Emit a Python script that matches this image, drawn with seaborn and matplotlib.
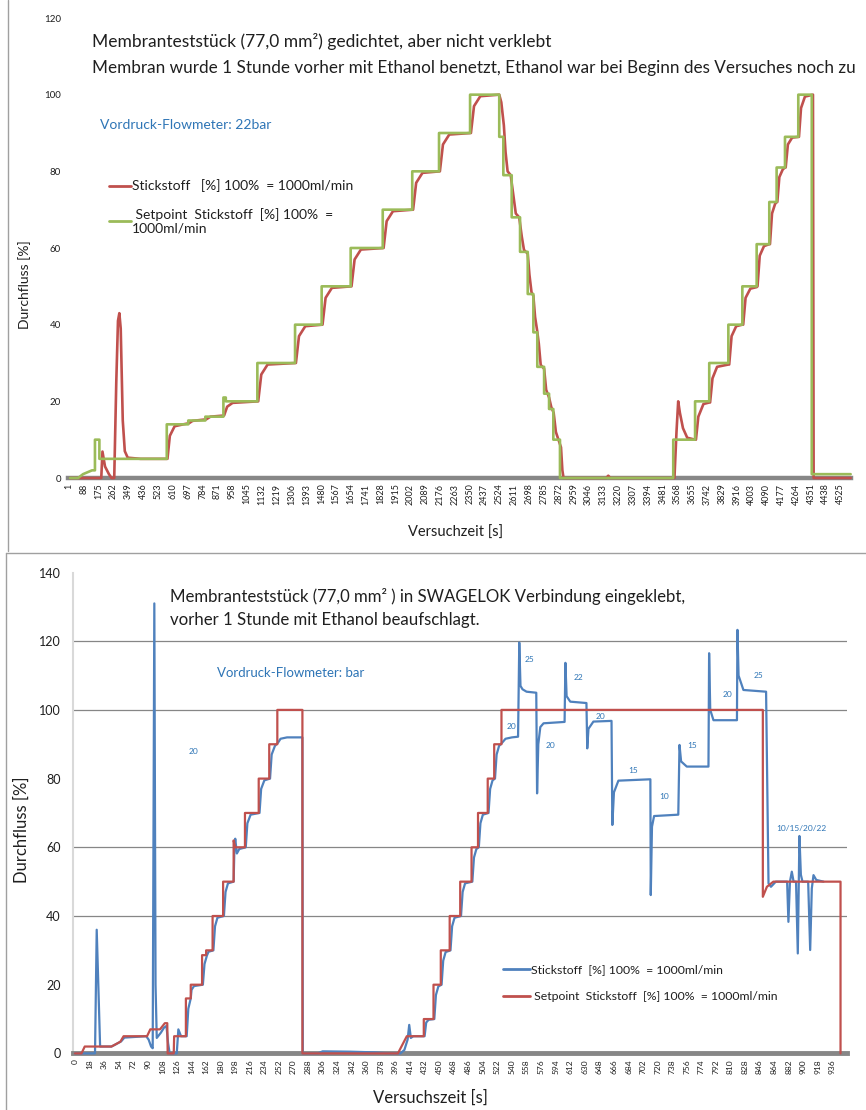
import matplotlib
matplotlib.use('Agg')
import matplotlib.pyplot as plt
import seaborn as sns
import pandas as pd
from matplotlib.lines import Line2D

# --- Data (time in s, flow in %) ---
# upper chart: setpoint (green) and measured flow (red)
top_setpoint = [
    (7, 0), (54, 0), (83, 1), (136, 2), (153, 2), (153, 10), (179, 10), (179, 5),
    (574, 5), (574, 14), (700, 14), (700, 15), (800, 15), (800, 16), (906, 16),
    (906, 21), (920, 21), (920, 20), (1105, 20), (1105, 30), (1326, 30), (1326, 40),
    (1482, 40), (1482, 50), (1652, 50), (1652, 60), (1840, 60), (1840, 70),
    (2013, 70), (2013, 80), (2170, 80), (2170, 90), (2352, 90), (2352, 100),
    (2523, 100), (2523, 89), (2547, 89), (2547, 79), (2596, 79), (2596, 68),
    (2645, 68), (2645, 59), (2690, 59), (2690, 48), (2723, 48), (2723, 38),
    (2746, 38), (2746, 29), (2786, 29), (2786, 22), (2815, 22), (2815, 18),
    (2840, 18), (2840, 10), (2879, 10), (2879, 0), (3543, 0), (3543, 10),
    (3671, 10), (3671, 20), (3754, 20), (3754, 30), (3866, 30), (3866, 40),
    (3948, 40), (3948, 50), (4032, 50), (4032, 61), (4106, 61), (4106, 72),
    (4149, 72), (4149, 81), (4198, 81), (4198, 89), (4276, 89), (4276, 100),
    (4355, 100), (4355, 1), (4583, 1),
]
top_flow = [
    (7, 0), (190, 0), (197, 6.9), (212, 3), (235, 1), (250, 0), (266, 0), (278, 25),
    (288, 41), (296, 43), (304, 39), (316, 15), (328, 7), (345, 5.3), (420, 5),
    (578, 5), (592, 11), (620, 13.5), (671, 14), (705, 14.3), (725, 14.9), (805, 15.3),
    (830, 16), (910, 16.3), (928, 18.6), (960, 19.6), (1105, 20),
    (1110, 20), (1128, 27), (1165, 29.6), (1326, 30),
    (1331, 30), (1349, 37), (1386, 39.6), (1482, 40),
    (1487, 40), (1505, 47), (1542, 49.6), (1652, 50),
    (1657, 50), (1675, 57), (1712, 59.6), (1840, 60),
    (1845, 60), (1863, 67), (1900, 69.6), (2013, 70),
    (2018, 70), (2036, 77), (2073, 79.6), (2170, 80),
    (2175, 80), (2193, 87), (2230, 89.6), (2352, 90),
    (2357, 90), (2375, 97), (2412, 99.6), (2523, 100),
    (2535, 98), (2550, 92), (2560, 85), (2572, 80), (2590, 79), (2605, 74),
    (2620, 69), (2640, 68), (2655, 63), (2668, 59.5), (2690, 58.5), (2700, 53),
    (2712, 48.5), (2723, 47.5), (2733, 42), (2745, 38.5), (2755, 35), (2766, 29.5),
    (2786, 28.5), (2798, 23), (2815, 21), (2828, 18.5), (2842, 17), (2855, 12),
    (2870, 10), (2885, 8), (2893, 2), (2900, 0),
    (3150, 0), (3162, 0.6), (3175, 0),
    (3550, 0), (3562, 12), (3572, 20), (3582, 17), (3600, 13), (3625, 10.5), (3671, 10),
    (3676, 10), (3690, 16), (3720, 19.3), (3754, 19.7),
    (3759, 19.7), (3773, 26), (3800, 29), (3866, 29.6),
    (3871, 29.6), (3885, 37), (3912, 39.6), (3948, 40),
    (3953, 40), (3967, 47), (3995, 49.4), (4032, 49.8),
    (4037, 50), (4050, 58), (4075, 60.5), (4106, 61),
    (4110, 61), (4122, 69), (4140, 71.5), (4149, 72),
    (4153, 72), (4165, 78.5), (4185, 80.5), (4198, 81),
    (4202, 81), (4215, 87), (4240, 88.8), (4276, 89),
    (4280, 89), (4292, 96.5), (4315, 99.5), (4362, 100), (4366, 0), (4583, 0),
]

# lower chart: measured flow (blue) and setpoint (red)
bot_flow = [
    (0, 0), (24.7, 0), (26.8, 36), (29, 18), (31, 2), (45, 2), (50, 2.6), (57, 3.5),
    (61, 4.6), (88, 5), (91, 4), (94, 2), (96, 1.5), (98, 131), (99.5, 20), (101, 4.5),
    (106, 6), (110, 7.5), (113, 8), (115, 3), (117, 0), (125.7, 0), (127.7, 7), (131, 5),
    (138, 5), (140, 13), (143, 16), (144, 18.5), (147, 19.6), (158, 20), (160, 26),
    (163, 28.5), (165, 29.6), (171, 30), (173, 37), (176, 39.5), (184, 40), (186, 47),
    (189, 49.5), (196, 50), (197, 60), (198, 62.5), (200, 58.2), (203, 59.5), (211, 60),
    (213, 67), (217, 69.5), (228, 70), (230, 77), (234, 79.5), (241, 80), (243, 87),
    (247, 89.5), (251, 90.5), (254, 91.6), (262, 92), (281, 92), (281.5, 0),
    (300, 0), (306, 0.6), (340, 0.5), (370, 0.3), (390, 0), (402, 0), (407, 1),
    (411, 4), (413, 8.3), (415, 4.5), (418, 5), (432, 5), (434, 9), (437, 9.8),
    (444, 10), (446, 17), (449, 19.5), (453, 20), (455, 27), (458, 29.5), (464, 30),
    (466, 37), (469, 39.5), (477, 40), (479, 47), (482, 49.5), (491, 50), (493, 57),
    (496, 59.5), (499, 60), (501, 67), (504, 69.5), (511, 70), (513, 77), (516, 79.5),
    (519, 80), (521, 87), (524, 89.5), (528, 90.5), (532, 91.6), (540, 92), (547.5, 92.2),
    (549, 119.6), (550.5, 107), (553, 106), (558, 105.3), (570, 105), (571, 75.7),
    (572.5, 90), (575, 95), (579, 96.1), (605, 96.5), (606, 113.7), (607.5, 104),
    (612, 102.4), (632, 102), (633, 88.8), (634.5, 94.5), (640.6, 96.6), (663, 96.8),
    (664, 66.5), (666, 76), (671.5, 79.4), (711, 79.8), (711.5, 46.1), (713, 66),
    (715.6, 69.1), (745.5, 69.5), (747, 89.8), (749, 85), (756, 83.5), (782.8, 83.5),
    (783.6, 116.5), (785, 100), (789, 97), (818, 97), (818.6, 123.3), (820, 110),
    (826, 105.8), (854, 105.3), (857, 49.5), (860, 48.5), (866, 50), (880, 50),
    (881.6, 38.3), (883.5, 50), (885.8, 52.9), (888, 50), (891, 50), (893.2, 29.1),
    (895.2, 63.3), (897, 52), (899, 50), (906, 50), (908.5, 30.1), (910.5, 48),
    (912.6, 51.9), (916, 50.5), (925, 50),
]
bot_setpoint = [
    (0, 0), (8, 0), (12, 2), (45, 2), (49, 2.5), (56, 3.4), (60, 5), (89, 5), (93, 7),
    (105, 7), (111, 8.8), (114, 8.8), (114.5, 0), (122, 0), (122.5, 5), (137, 5),
    (137, 16), (143, 16), (143, 20), (157, 20), (157, 28.6), (162, 28.6), (162, 30),
    (170, 30), (170, 40), (183, 40), (183, 50), (196, 50), (196, 62), (198, 60),
    (210, 60), (210, 70), (227, 70), (227, 80), (240, 80), (240, 90), (250, 90),
    (250, 100), (281, 100), (281, 0), (399, 0), (410, 5), (431, 5), (431, 10),
    (443, 10), (443, 20), (452, 20), (452, 30), (463, 30), (463, 40), (476, 40),
    (476, 50), (490, 50), (490, 60), (498, 60), (498, 70), (510, 70), (510, 80),
    (518, 80), (518, 90), (527, 90), (527, 100), (850, 100), (850, 45.6), (855, 48.5),
    (863, 50), (946, 50), (946, 0),
]

# pressure notes written into the lower chart (time, flow, text)
bot_notes = [
    (146, 87.8, '20'), (540, 95.1, '20'), (562, 114.7, '25'), (587, 89.7, '20'),
    (622, 109.3, '22'), (650, 98.2, '20'), (690, 82.3, '15'), (728, 74.7, '10'),
    (763, 89.5, '15'), (806, 104.4, '20'), (845, 110.1, '25'), (898, 65.4, '10/15/20/22'),
]

top_ticks = list(range(1, 4526, 87))
bot_ticks = list(range(0, 937, 18))

# --- colours ---
RED = '#C0504D'
GREEN = '#9BBB59'
BLUE = '#4F81BD'
NOTE_BLUE = '#2E75B6'
TXT = '#1f1f1f'

sns.set_theme(style='white')
plt.rcParams['font.family'] = ['Lato', 'DejaVu Sans']

W, H = 866, 1110
fig = plt.figure(figsize=(W / 100, H / 100), dpi=100)


def fx(x):
    return x / W


def fy(y):
    return 1 - y / H


def to_frame(pairs):
    return pd.DataFrame(pairs, columns=['t', 'v'])


# ---------------- upper chart ----------------
ax1 = fig.add_axes([fx(68), fy(478), fx(851) - fx(68), (478 - 18) / H])
sns.lineplot(data=to_frame(top_flow), x='t', y='v', ax=ax1, estimator=None, sort=False,
             color=RED, lw=1.9, zorder=3, clip_on=False)
sns.lineplot(data=to_frame(top_setpoint), x='t', y='v', ax=ax1, estimator=None, sort=False,
             color=GREEN, lw=1.9, zorder=4, clip_on=False)
ax1.set_xlim(-5, 4585)
ax1.set_ylim(0, 120)
ax1.set_yticks(range(0, 121, 20))
ax1.set_yticklabels([str(v) for v in range(0, 121, 20)], fontsize=7, color=TXT)
ax1.set_xticks(top_ticks)
ax1.set_xticklabels([str(t) for t in top_ticks], rotation=90, fontsize=6.5, color=TXT)
ax1.tick_params(length=0, pad=4)
ax1.tick_params(axis='y', pad=5)
for s in ['left', 'top', 'right']:
    ax1.spines[s].set_visible(False)
ax1.spines['bottom'].set_color('#878787')
ax1.spines['bottom'].set_linewidth(3.2)
ax1.set_xlabel('')
ax1.set_ylabel('')

leg1 = ax1.legend(
    [Line2D([], [], color=RED, lw=2), Line2D([], [], color=GREEN, lw=2)],
    ['Stickstoff   [%] 100%  = 1000ml/min', ' Setpoint  Stickstoff  [%] 100%  =\n1000ml/min'],
    loc='upper left', bbox_to_anchor=(fx(96), fy(167)), bbox_transform=fig.transFigure,
    frameon=False, fontsize=10, handlelength=1.6, handletextpad=0.1, labelspacing=1.1)
for t in leg1.get_texts():
    t.set_color(TXT)

fig.text(fx(92), fy(42), 'Membranteststück (77,0 mm²) gedichtet, aber nicht verklebt',
         fontsize=12.5, color=TXT, va='center', ha='left')
fig.text(fx(92), fy(68),
         'Membran wurde 1 Stunde vorher mit Ethanol benetzt, Ethanol war bei Beginn des Versuches noch zu',
         fontsize=12.3, color=TXT, va='center', ha='left')
fig.text(fx(100), fy(125), 'Vordruck-Flowmeter: 22bar', fontsize=10, color=NOTE_BLUE,
         va='center', ha='left')
fig.text(fx(25), fy(285), 'Durchfluss [%]', rotation=90, fontsize=10, color=TXT,
         va='center', ha='center')
fig.text(fx(456), fy(533), 'Versuchzeit [s]', fontsize=10.5, color=TXT,
         va='center', ha='center')

# ---------------- lower chart ----------------
ax2 = fig.add_axes([fx(73), fy(1053.4), fx(847) - fx(73), (1053.4 - 572.5) / H])
for g in [40, 60, 100, 120]:
    ax2.axhline(g, color='#868686', lw=0.9, zorder=1)
sns.lineplot(data=to_frame(bot_flow), x='t', y='v', ax=ax2, estimator=None, sort=False,
             color=BLUE, lw=1.6, zorder=3, clip_on=False)
sns.lineplot(data=to_frame(bot_setpoint), x='t', y='v', ax=ax2, estimator=None, sort=False,
             color=RED, lw=1.6, zorder=4, clip_on=False)
ax2.set_xlim(-2.5, 954)
ax2.set_ylim(0, 140)
ax2.set_yticks(range(0, 141, 20))
ax2.set_yticklabels([str(v) for v in range(0, 141, 20)], fontsize=9, color=TXT)
ax2.set_xticks(bot_ticks)
ax2.set_xticklabels([str(t) for t in bot_ticks], rotation=90, fontsize=6, color=TXT)
ax2.tick_params(length=0, pad=4)
ax2.tick_params(axis='y', pad=9)
for s in ['top', 'right']:
    ax2.spines[s].set_visible(False)
ax2.spines['left'].set_color('#d9d9d9')
ax2.spines['left'].set_linewidth(1.5)
ax2.spines['bottom'].set_color('#878787')
ax2.spines['bottom'].set_linewidth(3.5)
ax2.set_xlabel('')
ax2.set_ylabel('')

for t, v, s in bot_notes:
    ax2.text(t, v, s, fontsize=6, color=NOTE_BLUE, ha='center', va='center')

leg2 = ax2.legend(
    [Line2D([], [], color=BLUE, lw=2), Line2D([], [], color=RED, lw=2)],
    ['Stickstoff  [%] 100%  = 1000ml/min', ' Setpoint  Stickstoff  [%] 100%  = 1000ml/min'],
    loc='upper left', bbox_to_anchor=(fx(492), fy(953)), bbox_transform=fig.transFigure,
    frameon=False, fontsize=8.8, handlelength=2.2, handletextpad=0.1, labelspacing=1.3)
for t in leg2.get_texts():
    t.set_color(TXT)

fig.text(fx(170), fy(597), 'Membranteststück (77,0 mm² ) in SWAGELOK Verbindung eingeklebt,',
         fontsize=12.1, color=TXT, va='center', ha='left')
fig.text(fx(170), fy(620), 'vorher 1 Stunde mit Ethanol beaufschlagt.',
         fontsize=12.1, color=TXT, va='center', ha='left')
fig.text(fx(217), fy(673), 'Vordruck-Flowmeter: bar', fontsize=9.5, color=NOTE_BLUE,
         va='center', ha='left')
fig.text(fx(22), fy(830), 'Durchfluss [%]', rotation=90, fontsize=12, color=TXT,
         va='center', ha='center')
fig.text(fx(430), fy(1098), 'Versuchszeit [s]', fontsize=12, color=TXT,
         va='center', ha='center')

# chart frames as seen in the screenshot
for xs, ys in [((8, 8), (0, 551)), ((6, 866), (553, 553)), ((6, 6), (553, 1110))]:
    fig.add_artist(Line2D([fx(xs[0]), fx(xs[1])], [fy(ys[0]), fy(ys[1])],
                          transform=fig.transFigure, color='#a0a0a0', lw=1))

fig.savefig('out.png', dpi=100)
